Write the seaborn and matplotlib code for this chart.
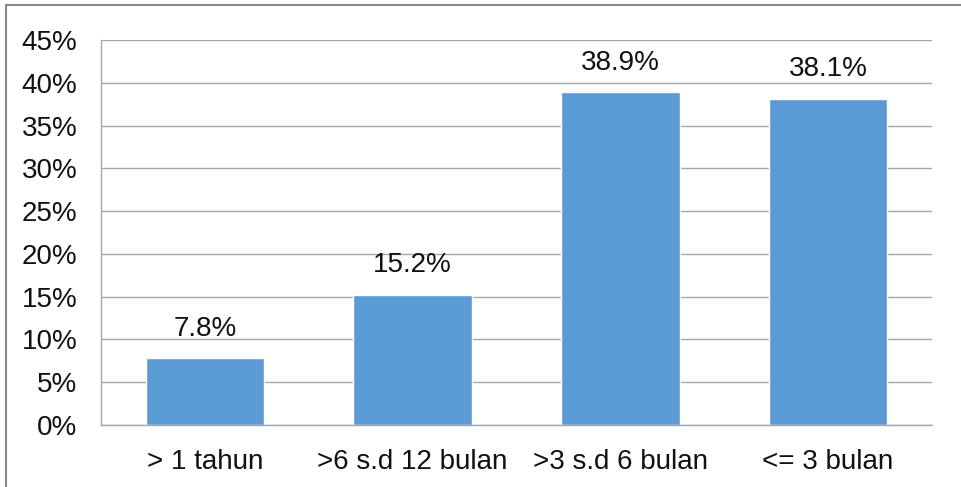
import matplotlib
matplotlib.use("Agg")
import matplotlib.pyplot as plt
import seaborn as sns
from matplotlib.patches import Rectangle
from matplotlib.ticker import FuncFormatter

kategori = ["> 1 tahun", ">6 s.d 12 bulan", ">3 s.d 6 bulan", "<= 3 bulan"]
persen = [7.8, 15.2, 38.9, 38.1]
label_batang = ["7.8%", "15.2%", "38.9%", "38.1%"]

sns.set_style("white")
plt.rcParams['font.family'] = ['Liberation Sans', 'DejaVu Sans']

fig = plt.figure(figsize=(9.61, 4.87), dpi=100)
ax = fig.add_axes([101/961, 1 - 425/487, 831/961, 385/487])

sns.barplot(x=kategori, y=persen, color="#5B9BD5", saturation=1, width=0.57, ax=ax)

ax.set_ylim(0, 45)
ax.set_yticks(range(0, 46, 5))
ax.yaxis.set_major_formatter(FuncFormatter(lambda v, p: f"{v:.0f}%"))
ax.grid(axis="y", color="#A6A6A6", linewidth=1)
ax.set_axisbelow(True)
for s in ["top", "right"]:
    ax.spines[s].set_visible(False)
for s in ["left", "bottom"]:
    ax.spines[s].set_color("#A6A6A6")
    ax.spines[s].set_linewidth(1)
ax.tick_params(axis="both", labelsize=20, length=0, colors="#111111")
ax.tick_params(axis="y", pad=17)
ax.tick_params(axis="x", pad=17)

for bar, txt in zip(ax.patches, label_batang):
    ax.annotate(txt, (bar.get_x() + bar.get_width() / 2, bar.get_height()),
                xytext=(0, 12), textcoords="offset points", ha="center", va="bottom",
                fontsize=20, color="#111111")

# outer chart border (only top/left visible in the screenshot)
fig.patches.append(Rectangle((6/961, -0.1), 1.2, 1.1 - 5/487, transform=fig.transFigure,
                             fill=False, edgecolor="#888888", linewidth=1.5))

fig.savefig("out.png", dpi=100)
